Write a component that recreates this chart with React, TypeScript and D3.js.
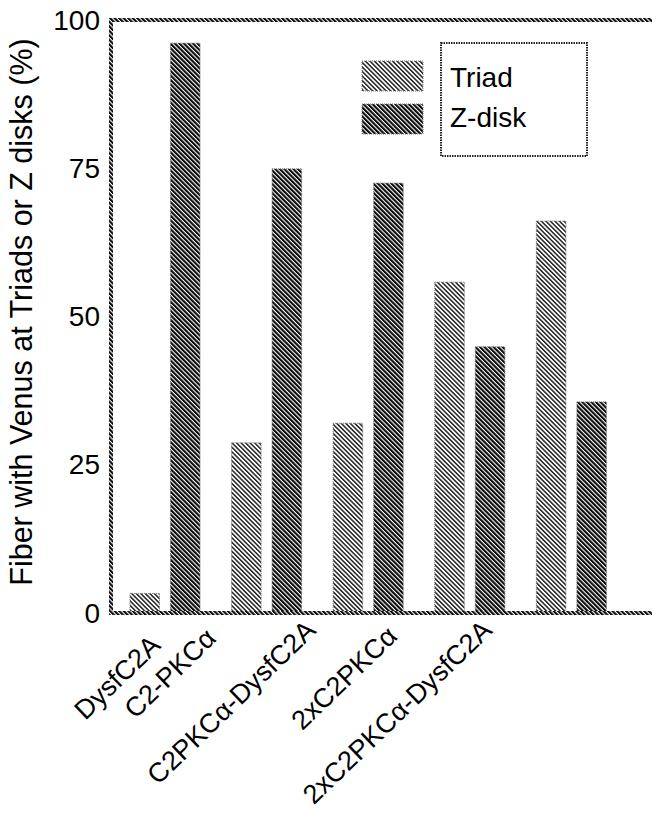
import React from "react";
import * as d3 from "d3";

// Constructs and measured localisation
const categories = [
  "DysfC2A",
  "C2-PKCα",
  "C2PKCα-DysfC2A",
  "2xC2PKCα",
  "2xC2PKCα-DysfC2A",
];
const seriesNames = ["Triad", "Z-disk"];
const triadValues = [3.3, 28.7, 32, 55.8, 66.1];
const zdiskValues = [96.1, 74.9, 72.5, 44.9, 35.6];
const yTicks = [0, 25, 50, 75, 100];

// Hand-placed tick label anchors (offset from group centre, baseline y)
const labelDx = [-3, -49, -51, -71, -78];
const labelY = [647, 640, 632, 638, 632];

const W = 652;
const H = 823;
const left = 111;
const right = 660;
const top = 20;
const bottom = 613;

export default function App() {
  const y = d3.scaleLinear().domain([0, 100]).range([bottom, top]);
  const x0 = d3
    .scaleBand<string>()
    .domain(categories)
    .range([114.2, 622.2])
    .paddingInner(0.31)
    .paddingOuter(0.155);
  const x1 = d3
    .scaleBand<string>()
    .domain(seriesNames)
    .range([0, x0.bandwidth()])
    .paddingInner(0.27);

  const rows = categories.map((c, i) => ({
    cat: c,
    vals: [
      { key: "Triad", v: triadValues[i] },
      { key: "Z-disk", v: zdiskValues[i] },
    ],
  }));
  const patId = (k: string) => (k === "Triad" ? "hatchLight" : "hatchDark");
  const font = "'Liberation Sans', Arial, Helvetica, sans-serif";

  return (
    <svg
      width={W}
      height={H}
      style={{ position: "absolute", left: 0, top: 0, background: "#fff" }}
      fontFamily={font}
    >
      <defs>
        <pattern
          id="hatchDark"
          patternUnits="userSpaceOnUse"
          width={3.2}
          height={3.2}
          patternTransform="rotate(-45)"
        >
          <rect width={3.2} height={3.2} fill="#fff" />
          <rect width={2.1} height={3.2} fill="#0a0a0a" />
        </pattern>
        <pattern
          id="hatchLight"
          patternUnits="userSpaceOnUse"
          width={3.2}
          height={3.2}
          patternTransform="rotate(-45)"
        >
          <rect width={3.2} height={3.2} fill="#fff" />
          <rect width={1.5} height={3.2} fill="#222" />
        </pattern>
      </defs>

      {/* bars */}
      {rows.map((r) => (
        <g key={r.cat} transform={`translate(${x0(r.cat)},0)`}>
          {r.vals.map((d) => (
            <rect
              key={d.key}
              x={x1(d.key)}
              y={y(d.v)}
              width={x1.bandwidth()}
              height={y(0) - y(d.v)}
              fill={`url(#${patId(d.key)})`}
              stroke="#777"
              strokeWidth={1}
              strokeDasharray="1 1"
            />
          ))}
        </g>
      ))}

      {/* frame: left axis, baseline, top edge */}
      <rect x={left - 2} y={top - 2} width={4} height={bottom - top + 4} fill="url(#hatchDark)" />
      <rect x={left - 2} y={bottom - 2} width={right - left} height={4} fill="url(#hatchDark)" />
      <rect x={left - 2} y={top - 2} width={right - left} height={4} fill="url(#hatchDark)" />

      {/* y tick labels */}
      {yTicks.map((t) => (
        <text
          key={t}
          x={100}
          y={y(t)}
          textAnchor="end"
          dominantBaseline="central"
          fontSize={28}
          fill="#000"
        >
          {t}
        </text>
      ))}

      {/* y title */}
      <text
        transform={`translate(32,312) rotate(-90)`}
        textAnchor="middle"
        fontSize={30.5}
        fill="#000"
      >
        Fiber with Venus at Triads or Z disks (%)
      </text>

      {/* category labels */}
      {categories.map((c, i) => (
        <text
          key={c}
          transform={`translate(${(x0(c) as number) + x0.bandwidth() / 2 + labelDx[i]},${labelY[i]}) rotate(-44)`}
          textAnchor="end"
          fontSize={27}
          fill="#000"
        >
          {c}
        </text>
      ))}

      {/* legend */}
      <g>
        <rect
          x={441}
          y={43}
          width={146}
          height={113}
          fill="none"
          stroke="#222"
          strokeWidth={2}
          strokeDasharray="1.5 1"
        />
        {seriesNames.map((s, i) => (
          <g key={s}>
            <rect
              x={362}
              y={61 + i * 43}
              width={61}
              height={30}
              fill={`url(#${patId(s)})`}
              stroke="#777"
              strokeWidth={1}
              strokeDasharray="1 1"
            />
            <text x={450} y={87 + i * 40} fontSize={28} fill="#000">
              {s}
            </text>
          </g>
        ))}
      </g>
    </svg>
  );
}
